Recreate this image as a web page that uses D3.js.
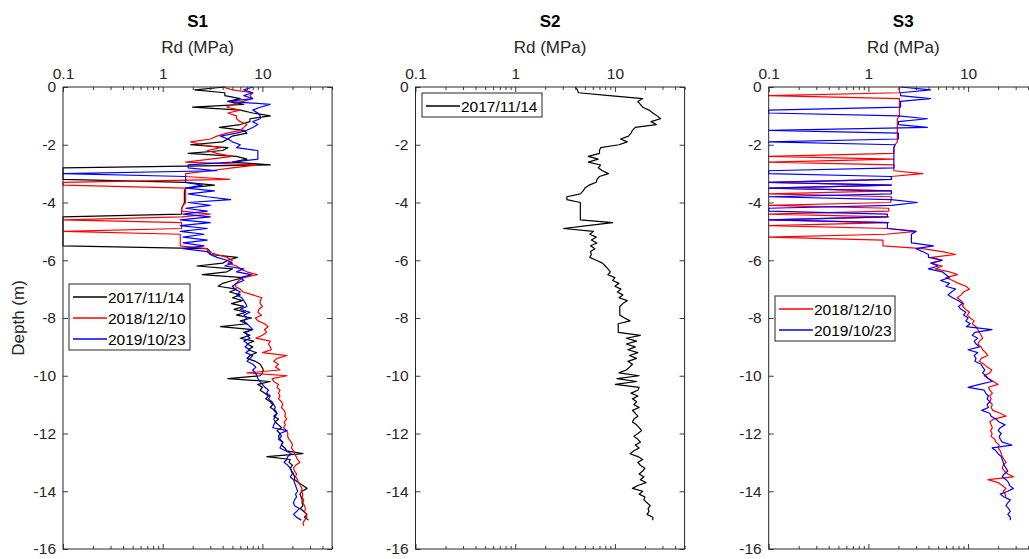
<!DOCTYPE html>
<html><head><meta charset="utf-8">
<script src="https://cdn.jsdelivr.net/npm/d3@7"></script>
<style>body{margin:0;background:#fff} svg{display:block;font-family:"Liberation Sans",Arial,Helvetica,sans-serif}</style>
</head><body><svg id="c" width="1029" height="559"></svg>
<script>
// ---------------- data ----------------
const DEPTH = [0,-0.1,-0.2,-0.3,-0.4,-0.5,-0.6,-0.7,-0.8,-0.9,
 -1,-1.1,-1.2,-1.3,-1.4,-1.5,-1.6,-1.7,-1.8,-1.9,
 -2,-2.1,-2.2,-2.3,-2.4,-2.5,-2.6,-2.7,-2.8,-2.9,
 -3,-3.1,-3.2,-3.3,-3.4,-3.5,-3.6,-3.7,-3.8,-3.9,
 -4,-4.1,-4.2,-4.3,-4.4,-4.5,-4.6,-4.7,-4.8,-4.9,
 -5,-5.1,-5.2,-5.3,-5.4,-5.5,-5.6,-5.7,-5.8,-5.9,
 -6,-6.1,-6.2,-6.3,-6.4,-6.5,-6.6,-6.7,-6.8,-6.9,
 -7,-7.1,-7.2,-7.3,-7.4,-7.5,-7.6,-7.7,-7.8,-7.9,
 -8,-8.1,-8.2,-8.3,-8.4,-8.5,-8.6,-8.7,-8.8,-8.9,
 -9,-9.1,-9.2,-9.3,-9.4,-9.5,-9.6,-9.7,-9.8,-9.9,
 -10,-10.1,-10.2,-10.3,-10.4,-10.5,-10.6,-10.7,-10.8,-10.9,
 -11,-11.1,-11.2,-11.3,-11.4,-11.5,-11.6,-11.7,-11.8,-11.9,
 -12,-12.1,-12.2,-12.3,-12.4,-12.5,-12.6,-12.7,-12.8,-12.9,
 -13,-13.1,-13.2,-13.3,-13.4,-13.5,-13.6,-13.7,-13.8,-13.9,
 -14,-14.1,-14.2,-14.3,-14.4,-14.5,-14.6,-14.7,-14.8,-14.9,
 -15,-15.1,-15.2];

const PANEL_TITLES = ["S1", "S2", "S3"];
const X_LABEL = "Rd (MPa)";
const Y_LABEL = "Depth (m)";
const X_TICKS = [0.1, 1, 10];
const X_TICK_LABELS = ["0.1", "1", "10"];
const X_MINOR_TICKS = [0.2,0.3,0.4,0.5,0.6,0.7,0.8,0.9,2,3,4,5,6,7,8,9,20,30,40,50];
const Y_TICKS = [0,-2,-4,-6,-8,-10,-12,-14,-16];
const DATES = ["2017/11/14", "2018/12/10", "2019/10/23"];

// S1 (MPa)
const S1_2017 = [4.2,2.1,4.2,4.2,6.0,4.5,6.5,2.0,6.0,8.0,
 12.0,7.5,7.5,6.0,3.7,6.5,7.0,5.0,4.5,4.0,
 1.9,4.5,4.0,1.8,5.5,7.0,5.0,12.0,0.1,0.1,
 0.1,0.1,0.1,1.7,3.3,1.7,1.65,1.65,1.65,1.65,
 1.65,1.6,1.55,1.55,1.55,0.1,0.1,0.1,0.1,0.1,
 0.1,0.1,0.1,0.1,0.1,0.1,2.8,3.0,3.0,5.6,
 4.5,4.0,2.2,5.0,4.4,2.5,6.4,5.0,4.0,3.6,
 5.5,4.7,6.0,5.0,6.3,4.9,6.5,5.2,6.8,5.5,
 7.8,6.0,7.0,3.8,8.0,6.5,7.5,6.0,8.2,7.0,
 8.0,7.2,8.7,7.5,7.0,8.5,9.5,9.9,10.2,10.0,
 9.5,4.5,12.0,9.0,10.0,9.5,10.5,11.5,10.8,12.0,
 12.7,12.0,13.5,14.0,13.0,14.5,13.4,14.5,15.6,14.0,
 15.0,14.5,15.0,16.0,15.5,16.8,17.5,25.5,11.1,19.0,
 18.5,20.0,19.0,19.7,20.5,21.0,21.0,23.0,25.5,28.0,
 25.0,23.8,24.5,25.0,25.0,25.5,24.0,26.0,28.0,26.5,
 29.0];
const S1_2018 = [4.0,5.0,8.0,7.5,8.0,6.5,5.0,4.4,6.0,4.5,
 5.5,5.5,6.0,7.0,6.5,6.0,4.4,3.5,3.0,1.9,
 2.5,3.8,2.8,3.5,5.0,3.0,1.7,8.8,5.0,3.0,
 1.7,1.7,4.7,0.1,0.1,1.7,1.7,1.7,1.7,1.7,
 1.7,1.6,1.55,1.55,3.0,1.55,0.1,1.55,1.55,1.55,
 0.1,1.5,1.5,1.5,1.5,1.5,2.8,2.8,3.5,4.4,
 5.0,4.5,5.5,6.0,7.0,8.9,6.5,5.8,5.5,5.3,
 6.0,6.4,8.0,9.9,9.5,9.5,10.0,9.2,9.0,9.8,
 8.5,9.0,10.5,11.4,10.5,11.0,10.0,8.6,12.0,11.5,
 12.0,12.3,10.0,17.7,14.0,13.0,14.5,13.5,15.0,7.0,
 17.7,12.5,13.0,14.5,14.0,15.0,14.5,15.0,14.5,15.6,
 16.0,15.5,16.5,17.0,16.8,17.5,16.5,17.0,16.3,17.5,
 18.0,17.9,18.5,19.5,20.0,19.5,20.5,21.0,21.8,22.5,
 23.8,21.5,20.5,21.0,22.0,21.5,22.5,23.0,24.0,25.0,
 24.5,25.5,25.0,26.0,25.5,26.5,27.0,26.5,27.5,28.0,
 26.5,25.5,26.0];
const S1_2019 = [8.0,6.5,8.0,6.5,8.0,4.5,12.0,9.5,8.0,9.0,
 9.5,9.5,8.0,9.0,8.0,7.0,5.5,3.8,4.5,5.0,
 6.0,5.5,9.0,9.0,9.0,9.0,5.0,1.8,1.8,3.5,
 0.1,1.7,1.7,1.7,2.5,1.7,3.3,1.8,2.8,4.8,
 1.8,3.0,1.7,2.8,1.6,3.0,1.5,3.0,1.5,2.8,
 1.5,2.6,1.6,2.8,1.6,2.6,1.6,2.8,3.0,3.5,
 4.4,5.0,4.2,6.5,5.5,7.8,6.0,6.5,5.5,5.0,
 5.3,6.0,5.5,6.2,6.5,6.8,7.0,6.0,7.5,6.5,
 7.0,6.5,7.0,7.5,8.0,6.8,7.0,7.5,6.5,7.2,
 6.7,7.5,6.8,8.0,7.5,7.0,8.0,8.6,8.0,8.5,
 8.8,9.0,9.5,10.0,10.6,11.5,11.0,12.0,11.5,12.5,
 13.0,13.5,13.0,14.0,13.5,13.0,13.5,13.0,12.7,17.7,
 15.0,15.5,14.5,16.0,15.5,15.0,17.0,19.5,18.0,17.5,
 16.5,18.0,19.0,19.5,20.0,19.0,20.5,21.0,21.5,22.0,
 22.6,21.5,22.0,21.0,20.5,21.0,23.5,22.0,20.5,22.0,
 24.5];

// S2 (MPa)
const S2_2017 = [4.0,4.2,4.3,8.8,19.0,17.0,18.0,19.0,22.0,24.0,
 26.5,28.6,23.0,26.0,16.0,15.0,14.5,13.7,11.4,13.3,
 11.0,7.2,7.0,7.0,5.4,6.8,5.4,7.2,6.8,7.5,
 8.6,7.0,6.6,6.5,5.5,5.0,4.8,4.5,3.3,3.3,
 4.5,4.5,4.5,4.5,4.5,4.5,4.5,9.5,5.3,3.05,
 6.1,5.6,6.5,5.8,6.6,5.7,6.3,5.7,5.8,5.6,
 6.5,7.5,8.0,8.5,9.0,8.5,10.0,9.5,11.0,10.0,
 11.5,10.6,12.0,11.0,13.3,12.0,11.2,11.2,11.2,11.2,
 12.5,14.2,10.8,10.8,10.8,10.8,18.0,13.0,16.5,13.0,
 16.0,13.5,17.0,14.0,16.5,13.5,15.0,14.0,13.0,11.0,
 17.5,10.5,16.5,10.1,17.5,17.0,14.5,17.0,15.0,16.5,
 15.5,17.5,15.0,16.0,17.0,15.5,15.0,16.5,17.5,18.5,
 17.0,15.5,17.0,18.0,16.0,17.5,15.5,14.2,17.0,19.0,
 17.0,18.0,20.0,19.0,17.5,19.5,18.0,20.5,17.0,15.0,
 19.0,17.5,20.0,19.5,21.0,22.6,21.5,22.0,21.0,24.0,
 24.0];

// S3 (MPa)
const S3_2018 = [2.05,2.05,2.05,0.1,2.05,2.05,2.05,2.05,2.05,2.05,
 2.05,1.95,1.95,1.95,1.95,1.95,1.95,1.95,1.95,1.95,
 1.85,1.8,1.8,1.8,0.1,1.8,0.1,1.8,1.8,1.8,
 3.5,1.7,1.7,0.1,1.7,0.1,1.7,0.1,1.7,1.7,
 1.65,0.1,1.6,1.6,0.1,1.6,0.1,1.6,0.1,1.6,
 3.0,1.5,0.1,1.4,1.4,1.4,3.5,5.5,7.5,4.3,
 5.5,4.2,5.5,4.7,6.5,7.8,6.0,7.0,8.0,9.5,
 10.3,9.0,8.5,7.8,8.5,9.0,8.8,9.5,10.3,9.8,
 10.5,11.5,11.0,12.0,12.5,13.0,13.5,14.0,13.0,12.5,
 13.5,14.0,15.0,15.8,13.5,13.0,14.5,15.5,17.3,16.5,
 14.5,16.0,18.0,20.0,16.0,16.5,17.5,16.5,17.0,16.5,
 17.5,17.0,17.7,21.0,24.0,18.0,16.5,17.0,17.5,16.8,
 17.4,17.0,18.5,19.0,20.5,20.0,21.0,21.5,22.0,23.0,
 24.0,22.5,22.0,23.0,25.0,28.5,15.8,20.0,22.0,24.0,
 22.5,23.5,24.0];
const S3_2019 = [2.1,4.2,2.1,2.1,4.2,2.1,2.1,2.1,0.1,0.1,
 2.0,3.9,2.0,2.0,3.9,0.1,2.0,2.0,2.0,0.1,
 1.85,1.8,1.8,1.8,1.8,1.8,1.8,1.8,1.8,0.1,
 0.1,1.7,1.7,0.1,1.7,0.1,1.7,1.7,0.1,1.7,
 3.1,1.7,0.1,0.1,1.55,1.55,0.1,1.55,1.55,1.55,
 3.0,2.7,2.7,2.7,2.7,4.5,3.0,3.5,4.0,4.0,
 5.5,4.3,5.0,4.0,5.5,6.0,6.5,5.3,6.5,6.0,
 7.5,6.8,6.3,7.0,8.0,8.8,8.0,8.5,9.5,9.0,
 10.0,9.5,10.5,9.6,17.4,11.7,11.0,12.5,11.5,12.0,
 13.0,10.0,12.5,11.5,12.0,11.7,13.5,14.0,14.7,14.0,
 15.0,16.0,17.4,13.0,10.0,14.5,15.0,16.0,15.5,16.5,
 15.5,16.0,13.7,16.5,17.0,19.0,20.5,23.5,21.0,20.0,
 21.5,20.5,21.0,22.0,27.5,17.4,19.0,20.0,21.5,22.0,
 22.5,23.0,24.0,25.0,23.0,22.0,24.0,25.5,26.0,28.5,
 25.0,21.0,23.0,26.5,25.0,24.0,25.5,26.5,25.0,26.5,
 26.5];

// ---------------- layout ----------------
const COLORS = {"2017/11/14": "#000000", "2018/12/10": "#ff0000", "2019/10/23": "#0000ff"};
const AX = "#262626";
const TOP = 87, BOTTOM = 549, PW = 269.1;
const panels = [
  {title: PANEL_TITLES[0], left: 63, series: [[DATES[0], S1_2017], [DATES[1], S1_2018], [DATES[2], S1_2019]],
   legend: {x: 69, y: 284, w: 121}},
  {title: PANEL_TITLES[1], left: 415.5, series: [[DATES[0], S2_2017]],
   legend: {x: 422, y: 93, w: 120}},
  {title: PANEL_TITLES[2], left: 768.7, series: [[DATES[1], S3_2018], [DATES[2], S3_2019]],
   legend: {x: 775, y: 296, w: 120}}
];

const svg = d3.select("#c");
const y = d3.scaleLinear().domain([0, -16]).range([TOP, BOTTOM]);
const TICK_FS = 15.5, LABEL_FS = 17, TITLE_FS = 17, LEG_FS = 15.5;

function styleAxis(g, showText) {
  g.select(".domain").remove();
  g.selectAll(".tick line").attr("stroke", AX).attr("stroke-width", 0.9);
  g.selectAll(".tick text").attr("fill", AX).attr("font-size", TICK_FS)
    .attr("font-family", '"Liberation Sans",Arial,sans-serif');
  if (!showText) g.selectAll(".tick text").remove();
}

const legendLayer = svg.append("g").attr("class", "legends");

panels.forEach((p, pi) => {
  const x = d3.scaleLog().domain([0.1, 50]).range([p.left, p.left + PW]);
  const g = svg.insert("g", ".legends");
  const cx = p.left + PW / 2;

  // data lines
  const line = d3.line().x(d => x(d.v)).y(d => y(d.d));
  p.series.forEach(([name, vals]) => {
    const pts = vals.map((v, i) => ({v: v, d: DEPTH[i]}));
    g.append("path").datum(pts).attr("d", line).style("fill", "none")
      .style("stroke", COLORS[name]).style("stroke-width", "1.2px").style("stroke-linejoin", "round");
  });

  // frame
  g.append("rect").attr("x", p.left).attr("y", TOP).attr("width", PW).attr("height", BOTTOM - TOP)
    .attr("fill", "none").attr("stroke", AX).attr("stroke-width", 1);

  // axes
  g.append("g").attr("transform", `translate(0,${TOP})`)
    .call(d3.axisTop(x).tickValues(X_TICKS).tickFormat((d, i) => X_TICK_LABELS[i]).tickSizeInner(-5).tickSizeOuter(0).tickPadding(8))
    .call(a => styleAxis(a, true));
  g.append("g").attr("transform", `translate(0,${TOP})`)
    .call(d3.axisTop(x).tickValues(X_MINOR_TICKS).tickFormat("").tickSizeInner(-3).tickSizeOuter(0))
    .call(a => styleAxis(a, false));
  g.append("g").attr("transform", `translate(0,${BOTTOM})`)
    .call(d3.axisBottom(x).tickValues(X_TICKS).tickFormat("").tickSizeInner(-5).tickSizeOuter(0))
    .call(a => styleAxis(a, false));
  g.append("g").attr("transform", `translate(0,${BOTTOM})`)
    .call(d3.axisBottom(x).tickValues(X_MINOR_TICKS).tickFormat("").tickSizeInner(-3).tickSizeOuter(0))
    .call(a => styleAxis(a, false));
  g.append("g").attr("transform", `translate(${p.left},0)`)
    .call(d3.axisLeft(y).tickValues(Y_TICKS).tickFormat(d => String(d)).tickSizeInner(-5).tickSizeOuter(0).tickPadding(7))
    .call(a => styleAxis(a, true));
  g.append("g").attr("transform", `translate(${p.left + PW},0)`)
    .call(d3.axisRight(y).tickValues(Y_TICKS).tickFormat("").tickSizeInner(-5).tickSizeOuter(0))
    .call(a => styleAxis(a, false));

  // titles
  g.append("text").attr("x", cx).attr("y", 26.5).attr("text-anchor", "middle")
    .attr("font-size", TITLE_FS).attr("font-weight", "bold").attr("fill", "#000").text(p.title);
  g.append("text").attr("x", cx).attr("y", 53).attr("text-anchor", "middle")
    .attr("font-size", LABEL_FS).attr("fill", AX).text(X_LABEL);
  if (pi === 0) {
    g.append("text").attr("transform", `translate(24,318) rotate(-90)`).attr("text-anchor", "middle")
      .attr("font-size", LABEL_FS).attr("fill", AX).text(Y_LABEL);
  }

  // legend
  const L = p.legend, rowH = 21;
  const lg = legendLayer.append("g");
  lg.append("rect").attr("x", L.x).attr("y", L.y).attr("width", L.w).attr("height", p.series.length * rowH + 3)
    .style("fill", "#ffffff").style("stroke", AX).style("stroke-width", "1px");
  p.series.forEach((s, i) => {
    const name = s[0];
    const ry = L.y + 13 + i * rowH;
    lg.append("path").attr("d", `M${L.x + 4},${ry}H${L.x + 38}`)
      .style("stroke", COLORS[name]).style("stroke-width", "1.4px").style("fill", "none");
    lg.append("text").attr("x", L.x + 39).attr("y", ry).attr("dy", "0.36em")
      .attr("font-size", LEG_FS).style("fill", "#000").text(name);
  });
});
</script></body></html>
